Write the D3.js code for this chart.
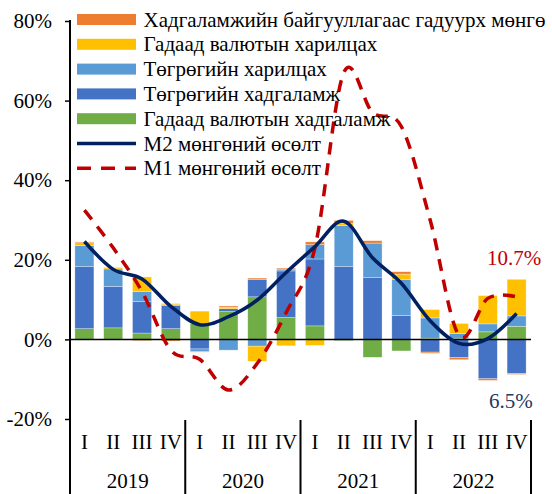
<!DOCTYPE html>
<html>
<head>
<meta charset="utf-8">
<script src="https://cdn.jsdelivr.net/npm/d3@7"></script>
<style>
  body { margin: 0; background: #fff; }
  text { font-family: "Liberation Serif", "Times New Roman", serif; }
</style>
</head>
<body>
<script>
// quarters and years
var quarters = ["I", "II", "III", "IV"]
var years = ["2019", "2020", "2021", "2022"]

// stacked components, % (bottom to top)
var fxDeposit  = [2.7, 2.9, 1.6, 2.7, 4.0, 7.0, 10.7, 5.5, 3.4, -0.3, -4.5, -2.9, 0.3, 0.3, 1.9, 3.3]
var mntDeposit = [15.6, 10.4, 7.9, 5.8, -2.4, 0.7, 4.3, 11.7, 16.8, 18.3, 15.5, 6.0, -3.2, -4.6, -9.9, -8.6]
var mntCurrent = [5.3, 4.4, 2.5, 0.2, -0.6, -2.7, -1.7, 0.3, 3.6, 10.3, 8.7, 9.1, 5.1, 1.2, 2.0, 2.6]
var fxCurrent  = [0.7, 0.3, 3.7, 0.3, 3.1, 0.4, -3.8, -1.6, -1.5, 0.5, 0.0, 1.3, 2.1, 2.5, 7.1, 9.2]
var outside    = [0.2, 0.1, -0.3, -0.4, -0.2, 0.3, 0.4, 0.4, 0.7, 0.8, 0.6, 0.6, -0.3, -0.5, -0.4, -0.2]

// lines, %
var m2Growth = [24.6, 17.6, 15.2, 8.3, 3.7, 5.7, 9.9, 16.8, 23.3, 29.7, 20.5, 14.1, 4.7, -1.0, 0.2, 6.5]
var m1Growth = [32.5, 23.0, 12.0, -2.7, -5.0, -12.7, -6.0, 6.7, 23.0, 67.0, 57.0, 53.5, 30.0, 1.0, 10.3, 10.7]

var yTicks = [-20, 0, 20, 40, 60, 80]

var series = [
  { key: "fx", name: "Гадаад валютын хадгаламж", values: fxDeposit, color: "#70AD47" },
  { key: "mntDep", name: "Төгрөгийн хадгаламж", values: mntDeposit, color: "#4472C4" },
  { key: "mntCur", name: "Төгрөгийн харилцах", values: mntCurrent, color: "#5B9BD5" },
  { key: "fxCur", name: "Гадаад валютын харилцах", values: fxCurrent, color: "#FFC000" },
  { key: "out", name: "Хадгаламжийн байгууллагаас гадуурх мөнгө", values: outside, color: "#ED7D31" }
]

var width = 552
var height = 494
var font = "Liberation Serif"
var fs = 21

var svg = d3.select("body").append("svg")
  .attr("width", width)
  .attr("height", height)

var cats = []
years.forEach(function(y) { quarters.forEach(function(q) { cats.push(y + "-" + q) }) })

var rows = cats.map(function(c, i) {
  var r = { cat: c }
  series.forEach(function(s) { r[s.key] = s.values[i] })
  return r
})

var y = d3.scaleLinear().domain([-20, 80]).range([419, 21])
var x = d3.scaleBand().domain(cats).range([70, 531]).paddingInner(0.34).paddingOuter(0.17)
var xCat = d3.scaleBand().domain(cats).range([70, 531])

var stack = d3.stack()
  .keys(series.map(function(s) { return s.key }))
  .offset(d3.stackOffsetDiverging)
var stacked = stack(rows)

svg.append("g").selectAll("g")
  .data(stacked)
  .enter().append("g")
    .attr("fill", function(d, i) { return series[i].color })
  .selectAll("rect")
  .data(function(d) { return d })
  .enter().append("rect")
    .attr("x", function(d) { return x(d.data.cat) })
    .attr("width", x.bandwidth())
    .attr("y", function(d) { return y(Math.max(d[0], d[1])) })
    .attr("height", function(d) { return Math.abs(y(d[0]) - y(d[1])) })
    .attr("stroke", "#fff")
    .attr("stroke-opacity", 0.5)
    .attr("stroke-width", 0.6)

// zero line
svg.append("line")
  .attr("x1", 70).attr("x2", 531)
  .attr("y1", y(0)).attr("y2", y(0))
  .attr("stroke", "#000").attr("stroke-width", 1.5)

var cx = function(d, i) { return x(cats[i]) + x.bandwidth() / 2 }

var m1Line = d3.line().x(cx).y(function(d) { return y(d) }).curve(d3.curveCatmullRom.alpha(0))
svg.append("path")
  .attr("d", m1Line(m1Growth))
  .attr("fill", "none")
  .attr("stroke", "#C00000")
  .attr("stroke-width", 3.5)
  .attr("stroke-dasharray", "12 9")

var m2Line = d3.line().x(cx).y(function(d) { return y(d) }).curve(d3.curveCatmullRom.alpha(0))
svg.append("path")
  .attr("d", m2Line(m2Growth))
  .attr("fill", "none")
  .attr("stroke", "#002060")
  .attr("stroke-width", 3.5)

// y axis
var yAxis = d3.axisLeft(y).tickValues(yTicks).tickSize(5).tickFormat(function(d) { return d + "%" })
var gy = svg.append("g").attr("transform", "translate(70,0)").call(yAxis)
gy.attr("font-family", font)
gy.select(".domain").remove()
gy.selectAll("line").attr("stroke", "#000").attr("stroke-width", 1.5)
gy.selectAll("text")
  .attr("x", -18)
  .attr("font-family", font)
  .attr("font-size", fs)
  .attr("fill", "#000")
svg.append("line")
  .attr("x1", 70).attr("x2", 70)
  .attr("y1", 20).attr("y2", height)
  .attr("stroke", "#000").attr("stroke-width", 2)

// category axis: quarters + years
svg.append("g").selectAll("text")
  .data(cats)
  .enter().append("text")
    .attr("x", function(d) { return xCat(d) + xCat.bandwidth() / 2 })
    .attr("y", 449)
    .attr("text-anchor", "middle")
    .attr("font-family", font)
    .attr("font-size", fs)
    .text(function(d) { return d.split("-")[1] })

svg.append("g").selectAll("text")
  .data(years)
  .enter().append("text")
    .attr("x", function(d) { return xCat(d + "-I") + xCat.bandwidth() * 2 })
    .attr("y", 488)
    .attr("text-anchor", "middle")
    .attr("font-family", font)
    .attr("font-size", fs)
    .text(function(d) { return d })

svg.append("g").selectAll("line")
  .data(years)
  .enter().append("line")
    .attr("x1", function(d) { return xCat(d + "-IV") + xCat.bandwidth() })
    .attr("x2", function(d) { return xCat(d + "-IV") + xCat.bandwidth() })
    .attr("y1", 420).attr("y2", height)
    .attr("stroke", "#000").attr("stroke-width", 2)

// legend
var legendItems = series.slice().reverse().map(function(s) { return { name: s.name, color: s.color, type: "bar" } })
legendItems.push({ name: "М2 мөнгөний өсөлт", color: "#002060", type: "line" })
legendItems.push({ name: "М1 мөнгөний өсөлт", color: "#C00000", type: "dash" })

var lg = svg.append("g").selectAll("g")
  .data(legendItems)
  .enter().append("g")
    .attr("transform", function(d, i) { return "translate(77," + (19.5 + i * 24.8) + ")" })

lg.filter(function(d) { return d.type == "bar" })
  .append("rect")
    .attr("x", 0).attr("y", -5.5).attr("width", 59).attr("height", 11)
    .attr("fill", function(d) { return d.color })

lg.filter(function(d) { return d.type != "bar" })
  .append("line")
    .attr("x1", 0).attr("x2", 59)
    .attr("stroke", function(d) { return d.color })
    .attr("stroke-width", 3.5)
    .attr("stroke-dasharray", function(d) { return d.type == "dash" ? "14 10" : null })

lg.append("text")
  .attr("x", 66.5)
  .attr("y", 7)
  .attr("font-family", font)
  .attr("font-size", fs)
  .text(function(d) { return d.name })

// end labels
svg.append("text")
  .attr("x", 487).attr("y", 265)
  .attr("font-family", font)
  .attr("font-size", fs)
  .attr("fill", "#C00000")
  .text(m1Growth[15].toFixed(1) + "%")

svg.append("text")
  .attr("x", 489).attr("y", 408)
  .attr("font-family", font)
  .attr("font-size", fs)
  .attr("fill", "#1F3864")
  .text(m2Growth[15].toFixed(1) + "%")
</script>
</body>
</html>
